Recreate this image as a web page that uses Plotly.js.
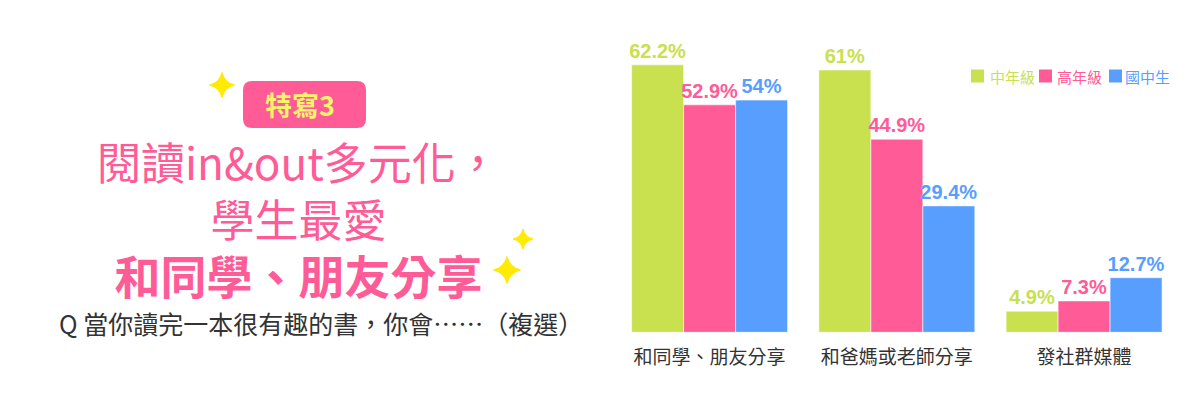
<!DOCTYPE html>
<html>
<head>
<meta charset="utf-8">
<script src="https://cdn.plot.ly/plotly-3.0.1.min.js"></script>
<style>
html,body{margin:0;padding:0;background:#ffffff;}
#chart{width:1200px;height:412px;}
</style>
</head>
<body>
<div id="chart"></div>
<script>
// ---- data ----
const categories = ['和同學、朋友分享', '和爸媽或老師分享', '發社群媒體'];
const seriesNames = ['中年級', '高年級', '國中生'];
const middleGrade = [62.2, 61, 4.9];
const upperGrade = [52.9, 44.9, 7.3];
const juniorHigh = [54, 29.4, 12.7];
const seriesValues = [middleGrade, upperGrade, juniorHigh];

// ---- styles ----
const colors = ['#C9E04F', '#FF5C97', '#589EFF'];
const PINK = '#FF5C97';
const YELLOW = '#FFEB00';
const W = 1200, H = 412;
const px = x => x / W;
const py = y => 1 - y / H;
const CJK = 'Noto Sans CJK TC, Noto Sans, sans-serif';

const traces = seriesValues.map((vals, i) => ({
  type: 'bar',
  name: seriesNames[i],
  x: categories,
  y: vals,
  marker: {color: colors[i], line: {color: 'rgba(255,255,255,0.55)', width: 1}},
  texttemplate: '%{y}%',
  textposition: 'outside',
  constraintext: 'none',
  cliponaxis: false,
  textfont: {family: 'Liberation Sans, Arial, sans-serif', size: 20, color: colors[i], weight: 'bold'},
  hoverinfo: 'skip'
}));

// sparkle (4-point star) path in paper coords
function sparkle(cx, cy, r) {
  const k = 0.2 * r;
  const P = (x, y) => px(x) + ',' + py(y);
  return 'M' + P(cx, cy - r) +
    ' Q' + P(cx + k, cy - k) + ' ' + P(cx + r, cy) +
    ' Q' + P(cx + k, cy + k) + ' ' + P(cx, cy + r) +
    ' Q' + P(cx - k, cy + k) + ' ' + P(cx - r, cy) +
    ' Q' + P(cx - k, cy - k) + ' ' + P(cx, cy - r) + ' Z';
}
function roundRect(x0, y0, x1, y1, r) {
  const P = (x, y) => px(x) + ',' + py(y);
  return 'M' + P(x0 + r, y0) + ' L' + P(x1 - r, y0) + ' Q' + P(x1, y0) + ' ' + P(x1, y0 + r) +
    ' L' + P(x1, y1 - r) + ' Q' + P(x1, y1) + ' ' + P(x1 - r, y1) +
    ' L' + P(x0 + r, y1) + ' Q' + P(x0, y1) + ' ' + P(x0, y1 - r) +
    ' L' + P(x0, y0 + r) + ' Q' + P(x0, y0) + ' ' + P(x0 + r, y0) + ' Z';
}

const shapes = [
  {type: 'path', xref: 'paper', yref: 'paper', path: roundRect(243, 81, 366, 128, 9), fillcolor: PINK, line: {width: 0}},
  {type: 'path', xref: 'paper', yref: 'paper', path: sparkle(222, 85, 12.5), fillcolor: YELLOW, line: {color: YELLOW, width: 1}},
  {type: 'path', xref: 'paper', yref: 'paper', path: sparkle(523, 239, 10), fillcolor: YELLOW, line: {color: YELLOW, width: 1}},
  {type: 'path', xref: 'paper', yref: 'paper', path: sparkle(507, 270, 13.5), fillcolor: YELLOW, line: {color: YELLOW, width: 1}}
];

// custom legend (layout positions)
const legendSquareX = [971, 1039, 1109];
const legendTextX = [988, 1055, 1123];
const legendY = 76;
const annotations = [];
seriesNames.forEach((n, i) => {
  shapes.push({type: 'rect', xref: 'paper', yref: 'paper',
    x0: px(legendSquareX[i]), x1: px(legendSquareX[i] + 13),
    y0: py(legendY - 6.5), y1: py(legendY + 6.5),
    fillcolor: colors[i], line: {width: 0}});
  annotations.push({xref: 'paper', yref: 'paper', x: px(legendTextX[i]), y: py(legendY),
    xanchor: 'left', yanchor: 'middle', showarrow: false, text: n,
    font: {family: CJK, size: 15, color: colors[i]}});
});

annotations.push(
  {xref: 'paper', yref: 'paper', x: px(300), y: py(104), xanchor: 'center', yanchor: 'middle', showarrow: false,
   text: '<b>特寫3</b>', font: {family: CJK, size: 27, color: '#F7F36B'}},
  {xref: 'paper', yref: 'paper', x: px(298), y: py(218), xanchor: 'center', yanchor: 'middle', showarrow: false,
   align: 'center',
   text: '閱讀in&amp;out多元化，<br>學生最愛<br><b><span style="font-size:46px">和同學、朋友分享</span></b>',
   font: {family: CJK, size: 44, color: PINK}},
  {xref: 'paper', yref: 'paper', x: px(57), y: py(323), xanchor: 'left', yanchor: 'middle', showarrow: false,
   text: 'Q 當你讀完一本很有趣的書，你會……（複選）', font: {family: CJK, size: 25, color: '#333333'}}
);

const layout = {
  width: W, height: H,
  margin: {l: 0, r: 0, t: 0, b: 0},
  paper_bgcolor: '#ffffff', plot_bgcolor: 'rgba(0,0,0,0)',
  barmode: 'group', bargap: 0.167, bargroupgap: 0,
  showlegend: false,
  xaxis: {
    domain: [616 / W, 1177.7 / W], range: [-0.5, 2.5], type: 'category',
    showline: false, showgrid: false, zeroline: false, ticks: '',
    tickfont: {family: CJK, size: 19, color: '#333333'},
    ticklabelstandoff: 12, fixedrange: true
  },
  yaxis: {
    domain: [py(332.3), py(31.3)], range: [0, 70],
    visible: false, showgrid: false, zeroline: false, fixedrange: true
  },
  shapes: shapes,
  annotations: annotations
};

Plotly.newPlot('chart', traces, layout, {displayModeBar: false, staticPlot: true});
</script>
</body>
</html>
